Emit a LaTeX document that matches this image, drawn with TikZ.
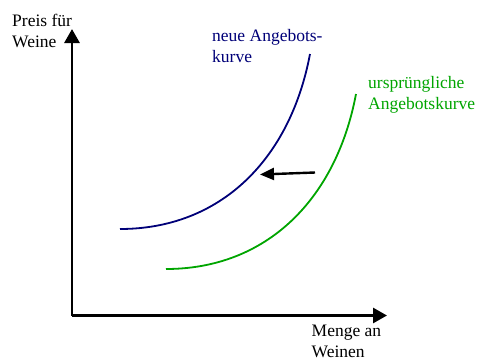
\documentclass[tikz,border=0pt]{standalone}
\usepackage{fontspec}
\setmainfont{Liberation Serif}
\usetikzlibrary{arrows.meta}
\definecolor{navyc}{RGB}{0,0,120}
\definecolor{greenc}{RGB}{0,165,0}
\tikzset{
  axis/.style={line width=2.8pt,-{Triangle[length=14pt,width=15pt]}},
  curve/.style={line width=1.8pt},
  lbl/.style={align=left,font=\fontsize{17.5}{21}\selectfont,inner sep=0pt,anchor=base west},
  shiftarrow/.style={line width=2.4pt,-{Triangle[length=14pt,width=12pt]}}
}
\begin{document}
\begin{tikzpicture}[x=1pt,y=-1pt]
\useasboundingbox (0,0) rectangle (477,360);
\coordinate (o) at (72,315.5);
\coordinate (ytip) at (72,29);
\coordinate (xtip) at (387,315.5);
\draw[axis] (o) -- (ytip);
\draw[axis] (o) -- (xtip);
\node[lbl] (ylab) at (12,47) {Preis für\\Weine};
\node[lbl] (xlab) at (311.5,357.5) {Menge an\\Weinen};
\coordinate (b0) at (120,229);
\coordinate (b1) at (310,54);
\coordinate (g0) at (166,269);
\coordinate (g1) at (356,94);
\draw[curve,navyc] (b0) .. controls (220,229) and (290,160) .. (b1);
\draw[curve,greenc] (g0) .. controls (266,269) and (336,200) .. (g1);
\node[lbl,text=navyc] (blab) at (212,62) {neue Angebots-\\kurve};
\node[lbl,text=greenc] (glab) at (368,109) {ursprüngliche\\Angebotskurve};
\coordinate (a0) at (315,172.5);
\coordinate (a1) at (260,174.5);
\draw[shiftarrow] (a0) -- (a1);
\end{tikzpicture}
\end{document}
